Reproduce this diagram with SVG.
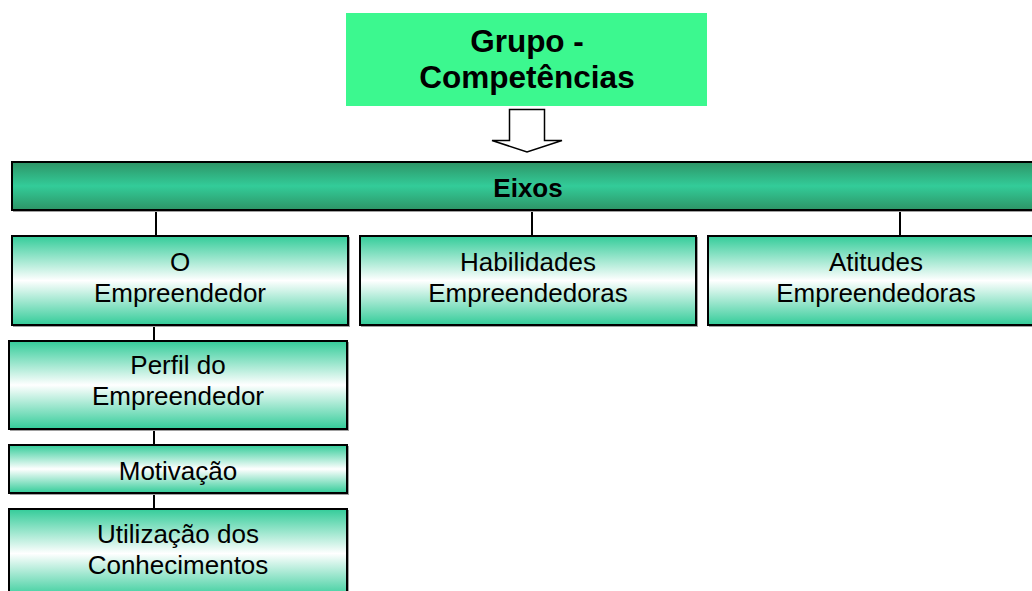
<svg xmlns="http://www.w3.org/2000/svg" width="1032" height="591" viewBox="0 0 1032 591">
<defs>
<linearGradient id="gBar" x1="0" y1="0" x2="0" y2="1">
<stop offset="0" stop-color="#2d9466"/>
<stop offset="0.5" stop-color="#33cc99"/>
<stop offset="1" stop-color="#2d9466"/>
</linearGradient>
<linearGradient id="gBox" x1="0" y1="0" x2="0" y2="1">
<stop offset="0" stop-color="#33cc99"/>
<stop offset="0.5" stop-color="#ffffff"/>
<stop offset="1" stop-color="#33cc99"/>
</linearGradient>
</defs>
<style>
.box{fill:url(#gBox);stroke:#000;stroke-width:2}
.bar{fill:url(#gBar);stroke:#000;stroke-width:2}
.sh{fill:#a0a0a0}
.t{font-family:"Liberation Sans",Arial,sans-serif;font-size:26px;fill:#000;text-anchor:middle}
.b{font-weight:bold}
.c{stroke:#000;stroke-width:2;fill:none}
</style>
<rect width="1032" height="591" fill="#fff"/>
<g id="connectors">
<polygon points="509.5,109.5 544.5,109.5 544.5,140.5 562,140.5 527,152 492,140.5 509.5,140.5" fill="#fff" stroke="#000" stroke-width="1.5"/>
<line class="c" x1="156" y1="210" x2="156" y2="236"/>
<line class="c" x1="532" y1="210" x2="532" y2="236"/>
<line class="c" x1="900" y1="210" x2="900" y2="236"/>
<line class="c" x1="154" y1="325" x2="154" y2="341"/>
<line class="c" x1="154" y1="429" x2="154" y2="445"/>
<line class="c" x1="154" y1="493" x2="154" y2="509"/>
</g>
<g id="grupo">
<rect x="346" y="13" width="361" height="93" fill="#3cf88f"/>
<text class="t b" x="527" y="52" style="font-size:31.5px">Grupo -</text>
<text class="t b" x="527" y="88" style="font-size:31.5px">Competências</text>
</g>
<g id="eixos">
<rect class="sh" x="13" y="163" width="1040" height="49"/>
<rect class="bar" x="12" y="162" width="1040" height="48"/>
<text class="t b" x="528" y="197" style="font-size:26px">Eixos</text>
</g>
<g id="o-empreendedor">
<rect class="sh" x="13" y="237" width="337" height="90"/>
<rect class="box" x="12" y="236" width="336" height="89"/>
<text class="t" x="180" y="271">O</text>
<text class="t" x="180" y="301.5">Empreendedor</text>
</g>
<g id="habilidades">
<rect class="sh" x="361" y="237" width="337" height="90"/>
<rect class="box" x="360" y="236" width="336" height="89"/>
<text class="t" x="528" y="271">Habilidades</text>
<text class="t" x="528" y="301.5">Empreendedoras</text>
</g>
<g id="atitudes">
<rect class="sh" x="709" y="237" width="337" height="90"/>
<rect class="box" x="708" y="236" width="336" height="89"/>
<text class="t" x="876" y="271">Atitudes</text>
<text class="t" x="876" y="301.5">Empreendedoras</text>
</g>
<g id="perfil">
<rect class="sh" x="10" y="342" width="339" height="89"/>
<rect class="box" x="9" y="341" width="338" height="88"/>
<text class="t" x="178" y="374">Perfil do</text>
<text class="t" x="178" y="405">Empreendedor</text>
</g>
<g id="motivacao">
<rect class="sh" x="10" y="446" width="339" height="49"/>
<rect class="box" x="9" y="445" width="338" height="48"/>
<text class="t" x="178" y="480">Motivação</text>
</g>
<g id="utilizacao">
<rect class="sh" x="10" y="510" width="339" height="90"/>
<rect class="box" x="9" y="509" width="338" height="89"/>
<text class="t" x="178" y="543">Utilização dos</text>
<text class="t" x="178" y="574">Conhecimentos</text>
</g>
</svg>
